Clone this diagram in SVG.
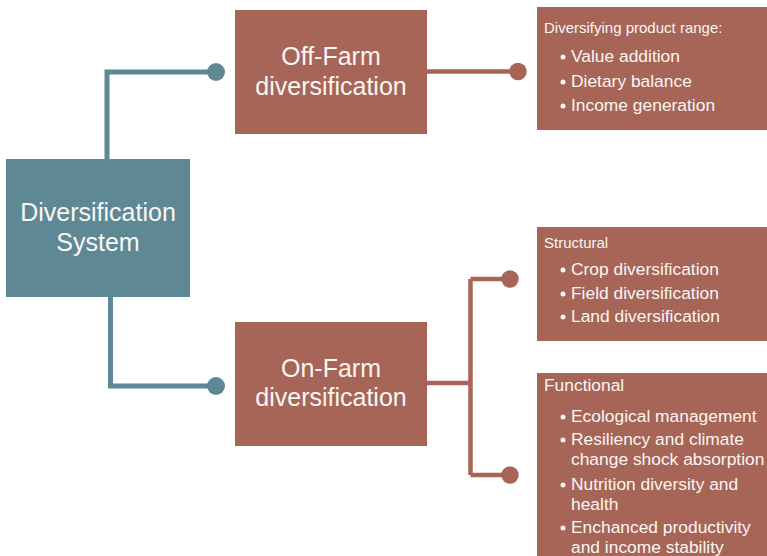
<svg xmlns="http://www.w3.org/2000/svg" width="767" height="556" viewBox="0 0 767 556">
  <style>
    .teal { fill: #5E8893; }
    .brown { fill: #A66556; }
    .lt { stroke: #5E8893; stroke-width: 5; fill: none; }
    .lb { stroke: #A66556; stroke-width: 4.5; fill: none; }
    .dt { fill: #5E8893; }
    .db { fill: #A66556; }
    .dot { fill: #FAF6F4; }
    text { font-family: "Liberation Sans", Arial, sans-serif; fill: #FAF6F4; }
    .main { font-size: 25px; text-anchor: middle; }
    .head { font-size: 15px; }
    .item { font-size: 17.4px; }
  </style>
  <rect width="767" height="556" fill="#FFFFFF"/>

  <g id="connectors">
    <path class="lt" d="M107 159 V72 H216"/>
    <circle class="dt" cx="216" cy="72" r="9"/>
    <path class="lt" d="M110.5 297 V386 H216"/>
    <circle class="dt" cx="216" cy="386" r="9"/>
    <path class="lb" d="M427 71.5 H518"/>
    <circle class="db" cx="518" cy="71.5" r="8.7"/>
    <path class="lb" d="M427 383 H470.5 M470.5 279 V475 M470.5 279 H510 M470.5 475 H510"/>
    <circle class="db" cx="510" cy="279" r="8.7"/>
    <circle class="db" cx="510" cy="475" r="8.7"/>
  </g>

  <g id="diversification-system">
    <rect class="teal" x="6" y="159" width="184" height="138"/>
    <text class="main" x="98" y="221">Diversification</text>
    <text class="main" x="98" y="251">System</text>
  </g>

  <g id="off-farm">
    <rect class="brown" x="235" y="10" width="192" height="124"/>
    <text class="main" x="331" y="65">Off-Farm</text>
    <text class="main" x="331" y="95">diversification</text>
  </g>

  <g id="on-farm">
    <rect class="brown" x="235" y="322" width="192" height="124"/>
    <text class="main" x="331" y="377">On-Farm</text>
    <text class="main" x="331" y="406">diversification</text>
  </g>

  <g id="product-range">
    <rect class="brown" x="537" y="7" width="230" height="123"/>
    <text class="head" x="544" y="33">Diversifying product range:</text>
    <circle class="dot" cx="563" cy="57" r="2.5"/>
    <text class="item" x="571" y="62">Value addition</text>
    <circle class="dot" cx="563" cy="82" r="2.5"/>
    <text class="item" x="571" y="87">Dietary balance</text>
    <circle class="dot" cx="563" cy="106" r="2.5"/>
    <text class="item" x="571" y="111">Income generation</text>
  </g>

  <g id="structural">
    <rect class="brown" x="537" y="227" width="230" height="114"/>
    <text class="head" x="544" y="248">Structural</text>
    <circle class="dot" cx="563" cy="270" r="2.5"/>
    <text class="item" x="571" y="275">Crop diversification</text>
    <circle class="dot" cx="563" cy="294" r="2.5"/>
    <text class="item" x="571" y="299">Field diversification</text>
    <circle class="dot" cx="563" cy="317" r="2.5"/>
    <text class="item" x="571" y="322">Land diversification</text>
  </g>

  <g id="functional">
    <rect class="brown" x="537" y="373" width="230" height="183"/>
    <text class="item" x="544" y="391">Functional</text>
    <circle class="dot" cx="563" cy="417" r="2.5"/>
    <text class="item" x="571" y="422">Ecological management</text>
    <circle class="dot" cx="563" cy="440" r="2.5"/>
    <text class="item" x="571" y="445">Resiliency and climate</text>
    <text class="item" x="571" y="465">change shock absorption</text>
    <circle class="dot" cx="563" cy="485" r="2.5"/>
    <text class="item" x="571" y="490">Nutrition diversity and</text>
    <text class="item" x="571" y="510">health</text>
    <circle class="dot" cx="563" cy="528" r="2.5"/>
    <text class="item" x="571" y="533">Enchanced productivity</text>
    <text class="item" x="571" y="553">and income stability</text>
  </g>
</svg>
